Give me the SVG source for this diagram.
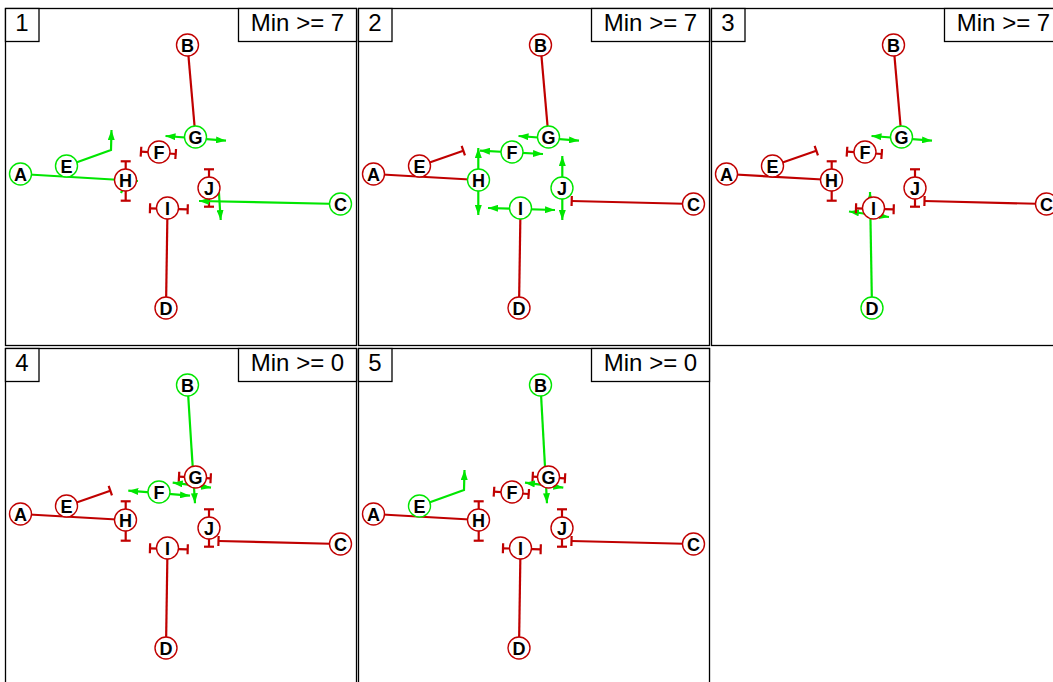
<svg xmlns="http://www.w3.org/2000/svg" width="1053" height="682" viewBox="0 0 1053 682">
<style>
.frame{fill:none;stroke:#000;stroke-width:1.3}
.box{fill:#fff;stroke:#000;stroke-width:1.3}
.ttl{font-family:"Liberation Sans",Arial,sans-serif;font-size:24px;fill:#000;text-anchor:middle}
.r{stroke:#c00000;stroke-width:2.2;fill:none}
.g{stroke:#00e600;stroke-width:2.2;fill:none}
.nr{fill:#fff;stroke:#c00000;stroke-width:1.4}
.ng{fill:#fff;stroke:#00e600;stroke-width:1.4}
.lbl{font-family:"Liberation Sans",Arial,sans-serif;font-size:18px;font-weight:bold;fill:#000;text-anchor:middle}
</style>
<defs>
<marker id="ag" viewBox="0 0 10 7" refX="10" refY="3.5" markerWidth="10" markerHeight="7" markerUnits="userSpaceOnUse" orient="auto-start-reverse">
<path d="M0,0 L10,3.5 L0,7 z" fill="#00e600"/>
</marker>
<marker id="br" viewBox="-2 -6 4 12" refX="0" refY="0" markerWidth="4" markerHeight="12" markerUnits="userSpaceOnUse" orient="auto">
<path d="M0,-5 L0,5" stroke="#c00000" stroke-width="2.2"/>
</marker>
<g id="frame">
<rect class="frame" x="5.5" y="8.5" width="351" height="337"/>
</g>
</defs>
<rect x="0" y="0" width="1053" height="682" fill="#fff"/>

<!-- Panel 1 -->
<g id="panel1">
<use href="#frame"/>
<rect class="box" x="5.5" y="8.5" width="33.5" height="33"/>
<text class="ttl" x="22" y="31">1</text>
<rect class="box" x="238.5" y="8.5" width="118" height="33"/>
<text class="ttl" x="297.5" y="31">Min &gt;= 7</text>
<g id="p1-edges">
<line class="g" x1="20.5" y1="174" x2="138" y2="181" marker-end="url(#ag)"/>
<line class="g" x1="126" y1="182" x2="121" y2="193" marker-end="url(#ag)"/>
<polyline class="g" points="66.5,166 111,150 111.5,130" marker-end="url(#ag)"/>
<line class="r" x1="187.5" y1="45" x2="195.5" y2="137"/>
<line class="g" x1="165.5" y1="136" x2="226" y2="140.7" marker-start="url(#ag)" marker-end="url(#ag)"/>
<line class="r" x1="141" y1="151.7" x2="175.7" y2="154" marker-start="url(#br)" marker-end="url(#br)"/>
<line class="r" x1="125.7" y1="161.3" x2="125.7" y2="200.7" marker-start="url(#br)" marker-end="url(#br)"/>
<line class="r" x1="209" y1="169.3" x2="209" y2="206.7" marker-start="url(#br)" marker-end="url(#br)"/>
<line class="r" x1="150" y1="208.3" x2="187.7" y2="209.3" marker-start="url(#br)" marker-end="url(#br)"/>
<line class="g" x1="340.5" y1="204" x2="199" y2="201" marker-end="url(#ag)"/>
<line class="g" x1="218.2" y1="181" x2="220.7" y2="220" marker-end="url(#ag)"/>
<line class="r" x1="166" y1="308" x2="167.5" y2="208"/>
</g>
<g id="p1-A"><circle class="ng" cx="20.5" cy="174" r="11"/><text class="lbl" x="20.5" y="180.5">A</text></g>
<g id="p1-B"><circle class="nr" cx="187.5" cy="45" r="11"/><text class="lbl" x="187.5" y="51.5">B</text></g>
<g id="p1-C"><circle class="ng" cx="340.5" cy="204" r="11"/><text class="lbl" x="340.5" y="210.5">C</text></g>
<g id="p1-D"><circle class="nr" cx="166" cy="308" r="11"/><text class="lbl" x="166" y="314.5">D</text></g>
<g id="p1-E"><circle class="ng" cx="66.5" cy="166" r="11"/><text class="lbl" x="66.5" y="172.5">E</text></g>
<g id="p1-F"><circle class="nr" cx="159" cy="152" r="11"/><text class="lbl" x="159" y="158.5">F</text></g>
<g id="p1-G"><circle class="ng" cx="195.5" cy="137" r="11"/><text class="lbl" x="195.5" y="143.5">G</text></g>
<g id="p1-H"><circle class="nr" cx="125.5" cy="180" r="11"/><text class="lbl" x="125.5" y="186.5">H</text></g>
<g id="p1-I"><circle class="nr" cx="167.5" cy="208" r="11"/><text class="lbl" x="167.5" y="214.5">I</text></g>
<g id="p1-J"><circle class="nr" cx="209" cy="188" r="11"/><text class="lbl" x="209" y="194.5">J</text></g>
</g>

<!-- Panel 2 -->
<g id="panel2" transform="translate(353,0)">
<use href="#frame"/>
<rect class="box" x="5.5" y="8.5" width="33.5" height="33"/>
<text class="ttl" x="22" y="31">2</text>
<rect class="box" x="238.5" y="8.5" width="118" height="33"/>
<text class="ttl" x="297.5" y="31">Min &gt;= 7</text>
<g id="p2-edges">
<line class="r" x1="20.5" y1="174" x2="125.5" y2="180"/>
<line class="r" x1="66.5" y1="166" x2="110.3" y2="150.7" marker-end="url(#br)"/>
<line class="r" x1="187.5" y1="45" x2="195.5" y2="137"/>
<line class="g" x1="165.5" y1="136" x2="226" y2="140.7" marker-start="url(#ag)" marker-end="url(#ag)"/>
<line class="g" x1="127" y1="150.7" x2="190" y2="154" marker-start="url(#ag)" marker-end="url(#ag)"/>
<line class="g" x1="125.3" y1="148" x2="125.3" y2="215" marker-start="url(#ag)" marker-end="url(#ag)"/>
<line class="g" x1="135" y1="208" x2="202" y2="210" marker-start="url(#ag)" marker-end="url(#ag)"/>
<line class="g" x1="209.3" y1="156" x2="209.3" y2="220" marker-start="url(#ag)" marker-end="url(#ag)"/>
<line class="r" x1="340.5" y1="204" x2="218.7" y2="201" marker-end="url(#br)"/>
<line class="r" x1="166" y1="308" x2="167.5" y2="208"/>
</g>
<g id="p2-A"><circle class="nr" cx="20.5" cy="174" r="11"/><text class="lbl" x="20.5" y="180.5">A</text></g>
<g id="p2-B"><circle class="nr" cx="187.5" cy="45" r="11"/><text class="lbl" x="187.5" y="51.5">B</text></g>
<g id="p2-C"><circle class="nr" cx="340.5" cy="204" r="11"/><text class="lbl" x="340.5" y="210.5">C</text></g>
<g id="p2-D"><circle class="nr" cx="166" cy="308" r="11"/><text class="lbl" x="166" y="314.5">D</text></g>
<g id="p2-E"><circle class="nr" cx="66.5" cy="166" r="11"/><text class="lbl" x="66.5" y="172.5">E</text></g>
<g id="p2-F"><circle class="ng" cx="159" cy="152" r="11"/><text class="lbl" x="159" y="158.5">F</text></g>
<g id="p2-G"><circle class="ng" cx="195.5" cy="137" r="11"/><text class="lbl" x="195.5" y="143.5">G</text></g>
<g id="p2-H"><circle class="ng" cx="125.5" cy="180" r="11"/><text class="lbl" x="125.5" y="186.5">H</text></g>
<g id="p2-I"><circle class="ng" cx="167.5" cy="208" r="11"/><text class="lbl" x="167.5" y="214.5">I</text></g>
<g id="p2-J"><circle class="ng" cx="209" cy="188" r="11"/><text class="lbl" x="209" y="194.5">J</text></g>
</g>

<!-- Panel 3 -->
<g id="panel3" transform="translate(706,0)">
<use href="#frame"/>
<rect class="box" x="5.5" y="8.5" width="33.5" height="33"/>
<text class="ttl" x="22" y="31">3</text>
<rect class="box" x="238.5" y="8.5" width="118" height="33"/>
<text class="ttl" x="297.5" y="31">Min &gt;= 7</text>
<g id="p3-edges">
<line class="r" x1="20.5" y1="174" x2="125.5" y2="180"/>
<line class="r" x1="66.5" y1="166" x2="110.3" y2="150.7" marker-end="url(#br)"/>
<line class="r" x1="187.5" y1="45" x2="195.5" y2="137"/>
<line class="g" x1="165.5" y1="136" x2="226" y2="140.7" marker-start="url(#ag)" marker-end="url(#ag)"/>
<line class="r" x1="141" y1="151.7" x2="175.7" y2="154" marker-start="url(#br)" marker-end="url(#br)"/>
<line class="r" x1="125.7" y1="161.3" x2="125.7" y2="200.7" marker-start="url(#br)" marker-end="url(#br)"/>
<line class="r" x1="209" y1="169.3" x2="209" y2="206.7" marker-start="url(#br)" marker-end="url(#br)"/>
<line class="g" x1="143" y1="211.5" x2="183" y2="217" marker-start="url(#ag)" marker-end="url(#ag)"/>
<line class="r" x1="150" y1="208.3" x2="187.7" y2="209.3" marker-start="url(#br)" marker-end="url(#br)"/>
<line class="r" x1="340.5" y1="204" x2="218.5" y2="201" marker-end="url(#br)"/>
<line class="g" x1="166" y1="308" x2="164" y2="192" marker-end="url(#ag)"/>
</g>
<g id="p3-A"><circle class="nr" cx="20.5" cy="174" r="11"/><text class="lbl" x="20.5" y="180.5">A</text></g>
<g id="p3-B"><circle class="nr" cx="187.5" cy="45" r="11"/><text class="lbl" x="187.5" y="51.5">B</text></g>
<g id="p3-C"><circle class="nr" cx="340.5" cy="204" r="11"/><text class="lbl" x="340.5" y="210.5">C</text></g>
<g id="p3-D"><circle class="ng" cx="166" cy="308" r="11"/><text class="lbl" x="166" y="314.5">D</text></g>
<g id="p3-E"><circle class="nr" cx="66.5" cy="166" r="11"/><text class="lbl" x="66.5" y="172.5">E</text></g>
<g id="p3-F"><circle class="nr" cx="159" cy="152" r="11"/><text class="lbl" x="159" y="158.5">F</text></g>
<g id="p3-G"><circle class="ng" cx="195.5" cy="137" r="11"/><text class="lbl" x="195.5" y="143.5">G</text></g>
<g id="p3-H"><circle class="nr" cx="125.5" cy="180" r="11"/><text class="lbl" x="125.5" y="186.5">H</text></g>
<g id="p3-I"><circle class="nr" cx="167.5" cy="208" r="11"/><text class="lbl" x="167.5" y="214.5">I</text></g>
<g id="p3-J"><circle class="nr" cx="209" cy="188" r="11"/><text class="lbl" x="209" y="194.5">J</text></g>
</g>

<!-- Panel 4 -->
<g id="panel4" transform="translate(0,340)">
<use href="#frame"/>
<rect class="box" x="5.5" y="8.5" width="33.5" height="33"/>
<text class="ttl" x="22" y="31">4</text>
<rect class="box" x="238.5" y="8.5" width="118" height="33"/>
<text class="ttl" x="297.5" y="31">Min &gt;= 0</text>
<g id="p4-edges">
<line class="r" x1="20.5" y1="174" x2="125.5" y2="180"/>
<line class="r" x1="66.5" y1="166" x2="110.3" y2="150.7" marker-end="url(#br)"/>
<line class="g" x1="187.5" y1="45" x2="195" y2="163.3" marker-end="url(#ag)"/>
<line class="r" x1="179" y1="136.7" x2="210.7" y2="138.3" marker-start="url(#br)" marker-end="url(#br)"/>
<line class="g" x1="172.7" y1="142.7" x2="211" y2="147.7" marker-start="url(#ag)" marker-end="url(#ag)"/>
<line class="g" x1="128.3" y1="150.7" x2="190" y2="155.7" marker-start="url(#ag)" marker-end="url(#ag)"/>
<line class="r" x1="125.7" y1="161.3" x2="125.7" y2="200.7" marker-start="url(#br)" marker-end="url(#br)"/>
<line class="r" x1="209" y1="169.3" x2="209" y2="206.7" marker-start="url(#br)" marker-end="url(#br)"/>
<line class="r" x1="150" y1="208.3" x2="187.7" y2="209.3" marker-start="url(#br)" marker-end="url(#br)"/>
<line class="r" x1="340.5" y1="204" x2="218.5" y2="201" marker-end="url(#br)"/>
<line class="r" x1="166" y1="308" x2="167.5" y2="208"/>
</g>
<g id="p4-A"><circle class="nr" cx="20.5" cy="174" r="11"/><text class="lbl" x="20.5" y="180.5">A</text></g>
<g id="p4-B"><circle class="ng" cx="187.5" cy="45" r="11"/><text class="lbl" x="187.5" y="51.5">B</text></g>
<g id="p4-C"><circle class="nr" cx="340.5" cy="204" r="11"/><text class="lbl" x="340.5" y="210.5">C</text></g>
<g id="p4-D"><circle class="nr" cx="166" cy="308" r="11"/><text class="lbl" x="166" y="314.5">D</text></g>
<g id="p4-E"><circle class="nr" cx="66.5" cy="166" r="11"/><text class="lbl" x="66.5" y="172.5">E</text></g>
<g id="p4-F"><circle class="ng" cx="159" cy="152" r="11"/><text class="lbl" x="159" y="158.5">F</text></g>
<g id="p4-G"><circle class="nr" cx="195.5" cy="137" r="11"/><text class="lbl" x="195.5" y="143.5">G</text></g>
<g id="p4-H"><circle class="nr" cx="125.5" cy="180" r="11"/><text class="lbl" x="125.5" y="186.5">H</text></g>
<g id="p4-I"><circle class="nr" cx="167.5" cy="208" r="11"/><text class="lbl" x="167.5" y="214.5">I</text></g>
<g id="p4-J"><circle class="nr" cx="209" cy="188" r="11"/><text class="lbl" x="209" y="194.5">J</text></g>
</g>

<!-- Panel 5 -->
<g id="panel5" transform="translate(353,340)">
<use href="#frame"/>
<rect class="box" x="5.5" y="8.5" width="33.5" height="33"/>
<text class="ttl" x="22" y="31">5</text>
<rect class="box" x="238.5" y="8.5" width="118" height="33"/>
<text class="ttl" x="297.5" y="31">Min &gt;= 0</text>
<g id="p5-edges">
<line class="r" x1="20.5" y1="174" x2="125.5" y2="180"/>
<polyline class="g" points="66.5,166 111,150 111.5,130" marker-end="url(#ag)"/>
<line class="g" x1="187.5" y1="45" x2="194" y2="163.3" marker-end="url(#ag)"/>
<line class="r" x1="179.7" y1="136.7" x2="212" y2="138.3" marker-start="url(#br)" marker-end="url(#br)"/>
<line class="g" x1="172" y1="142.7" x2="210.3" y2="147.7" marker-start="url(#ag)" marker-end="url(#ag)"/>
<line class="r" x1="141" y1="151.7" x2="175.7" y2="154" marker-start="url(#br)" marker-end="url(#br)"/>
<line class="r" x1="125.7" y1="161.3" x2="125.7" y2="200.7" marker-start="url(#br)" marker-end="url(#br)"/>
<line class="r" x1="209" y1="169.3" x2="209" y2="206.7" marker-start="url(#br)" marker-end="url(#br)"/>
<line class="r" x1="150" y1="208.3" x2="187.7" y2="209.3" marker-start="url(#br)" marker-end="url(#br)"/>
<line class="r" x1="340.5" y1="204" x2="218.5" y2="201" marker-end="url(#br)"/>
<line class="r" x1="166" y1="308" x2="167.5" y2="208"/>
</g>
<g id="p5-A"><circle class="nr" cx="20.5" cy="174" r="11"/><text class="lbl" x="20.5" y="180.5">A</text></g>
<g id="p5-B"><circle class="ng" cx="187.5" cy="45" r="11"/><text class="lbl" x="187.5" y="51.5">B</text></g>
<g id="p5-C"><circle class="nr" cx="340.5" cy="204" r="11"/><text class="lbl" x="340.5" y="210.5">C</text></g>
<g id="p5-D"><circle class="nr" cx="166" cy="308" r="11"/><text class="lbl" x="166" y="314.5">D</text></g>
<g id="p5-E"><circle class="ng" cx="66.5" cy="166" r="11"/><text class="lbl" x="66.5" y="172.5">E</text></g>
<g id="p5-F"><circle class="nr" cx="159" cy="152" r="11"/><text class="lbl" x="159" y="158.5">F</text></g>
<g id="p5-G"><circle class="nr" cx="195.5" cy="137" r="11"/><text class="lbl" x="195.5" y="143.5">G</text></g>
<g id="p5-H"><circle class="nr" cx="125.5" cy="180" r="11"/><text class="lbl" x="125.5" y="186.5">H</text></g>
<g id="p5-I"><circle class="nr" cx="167.5" cy="208" r="11"/><text class="lbl" x="167.5" y="214.5">I</text></g>
<g id="p5-J"><circle class="nr" cx="209" cy="188" r="11"/><text class="lbl" x="209" y="194.5">J</text></g>
</g>
</svg>
